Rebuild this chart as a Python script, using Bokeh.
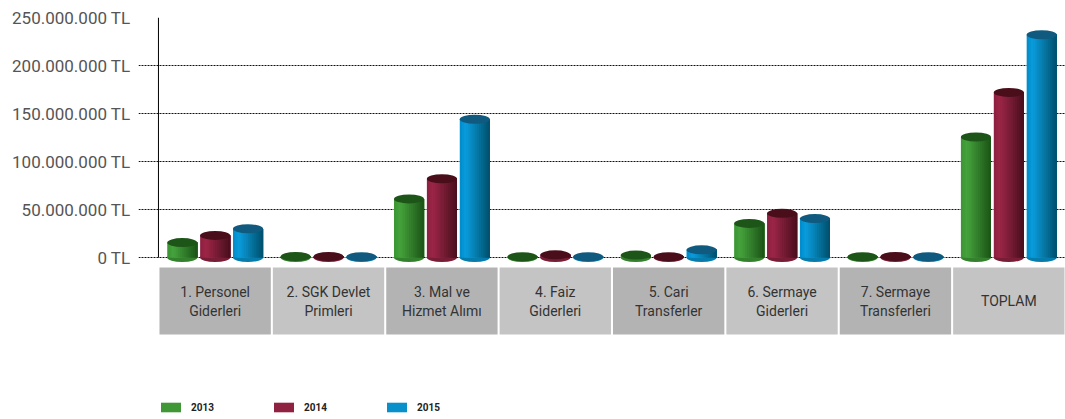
import numpy as np
from bokeh.plotting import figure
from bokeh.models import FixedTicker, Legend, LegendItem, Range1d
from bokeh.core.properties import value
from bokeh.embed import file_html
from bokeh.resources import INLINE

# ---------------- data ----------------
categories = ["1. Personel\nGiderleri", "2. SGK Devlet\nPrimleri", "3. Mal ve\nHizmet Alımı",
              "4. Faiz\nGiderleri", "5. Cari\nTransferler", "6. Sermaye\nGiderleri",
              "7. Sermaye\nTransferleri", "TOPLAM"]
years = ["2013", "2014", "2015"]
v2013 = [15_500_000, 1_000_000, 61_000_000, 800_000, 2_500_000, 35_500_000, 800_000, 125_500_000]
v2014 = [23_000_000, 1_000_000, 82_000_000, 2_800_000, 800_000, 46_000_000, 1_000_000, 172_000_000]
v2015 = [30_000_000, 800_000, 144_000_000, 800_000, 8_000_000, 40_500_000, 800_000, 232_000_000]
ytick_values = [0, 50_000_000, 100_000_000, 150_000_000, 200_000_000, 250_000_000]
ytick_labels = ["0 TL", "50.000.000 TL", "100.000.000 TL", "150.000.000 TL",
                "200.000.000 TL", "250.000.000 TL"]

series = [v2013, v2014, v2015]

# ---------------- styles ----------------
grad_stops = [
    ("#3a9432", "#45a33c", "#1b5216"),
    ("#8c1f3f", "#9c2647", "#480e1c"),
    ("#008bca", "#0a9cdc", "#004f6b"),
]
top_colors = ["#1d5518", "#4a0e1a", "#0f5a7e"]
offsets = [-0.29, 0.0, 0.29]
bar_w = 0.265
N_STRIPS = 14
box_colors = ["#b3b3b3", "#c4c4c4"]


def hex2rgb(h):
    h = h.lstrip("#")
    return np.array([int(h[i:i + 2], 16) for i in (0, 2, 4)], dtype=float)


def rgb2hex(c):
    return "#%02x%02x%02x" % tuple(int(round(v)) for v in c)


def gradient(stops, n):
    a, b, c = (hex2rgb(s) for s in stops)
    out = []
    for k in range(n):
        t = (k + 0.5) / n
        if t < 0.2:
            col = a + (b - a) * (t / 0.2)
        else:
            col = b + (c - b) * ((t - 0.2) / 0.8)
        out.append(rgb2hex(col))
    return out


p = figure(width=1065, height=419, output_backend="svg", toolbar_location=None,
           x_range=Range1d(-0.176, 8.0), y_range=Range1d(-168_750_000, 250_000_000),
           min_border_left=138, min_border_right=0, min_border_top=17, min_border_bottom=0,
           x_axis_location=None)
p.outline_line_color = None
p.background_fill_color = "white"
p.border_fill_color = "white"
p.xgrid.visible = False
p.ygrid.ticker = FixedTicker(ticks=ytick_values)
p.ygrid.grid_line_color = "#111111"
p.ygrid.grid_line_dash = "2 1"
p.ygrid.grid_line_width = 1

yax = p.yaxis[0]
yax.ticker = FixedTicker(ticks=ytick_values)
yax.major_label_overrides = {v: l for v, l in zip(ytick_values, ytick_labels)}
yax.axis_line_color = None
yax.major_tick_line_color = None
yax.minor_tick_line_color = None
yax.major_tick_out = 0
yax.major_tick_in = 0
yax.major_label_standoff = 8
yax.major_label_text_font = "Roboto"
yax.major_label_text_font_size = "17px"
yax.major_label_text_color = "#555555"

n = len(categories)
idx = np.arange(n)

# category boxes and labels
p.quad(left=idx + 0.009, right=idx + 1 - 0.009, top=-10_400_000, bottom=-80_200_000,
       fill_color=[box_colors[i % 2] for i in range(n)], line_color=None)
p.text(x=idx + 0.5, y=-45_800_000, text=categories, text_align="center",
       text_baseline="middle", text_font=value("Roboto"), text_font_size="14px",
       text_color="#333333", text_line_height=1.15)

# vertical axis line
p.segment(x0=[0], y0=[0], x1=[0], y1=[ytick_values[-1]], line_color="black", line_width=1)

legend_items = []
for s, vals in enumerate(series):
    cols = gradient(grad_stops[s], N_STRIPS)
    xc = idx + 0.5 + offsets[s]
    vals = np.array(vals, dtype=float)
    # bottom ellipse
    p.ellipse(x=xc, y=np.zeros(n), width=bar_w, height=9, height_units="screen",
              fill_color=cols[N_STRIPS // 2], line_color=None)
    sw = bar_w / N_STRIPS
    legend_r = None
    for k in range(N_STRIPS):
        r = p.quad(left=xc - bar_w / 2 + k * sw, right=xc + bar_w / 2, bottom=0, top=vals,
                   fill_color=cols[k], line_color=None)
        if k == N_STRIPS // 3:
            legend_r = r
    p.ellipse(x=xc, y=vals, width=bar_w, height=9, height_units="screen",
              fill_color=top_colors[s], line_color=None)
    legend_items.append(LegendItem(label=years[s], renderers=[legend_r]))

legend = Legend(items=legend_items, orientation="horizontal", location=(20, 6),
                border_line_color=None, background_fill_alpha=0, padding=0, margin=0,
                spacing=55, glyph_width=25, glyph_height=12, label_height=12, label_width=25,
                label_standoff=8, label_text_font="Roboto", label_text_font_size="10px",
                label_text_font_style="bold", label_text_color="#222222")
p.add_layout(legend)

open("out.html", "w").write(file_html(p, INLINE))
